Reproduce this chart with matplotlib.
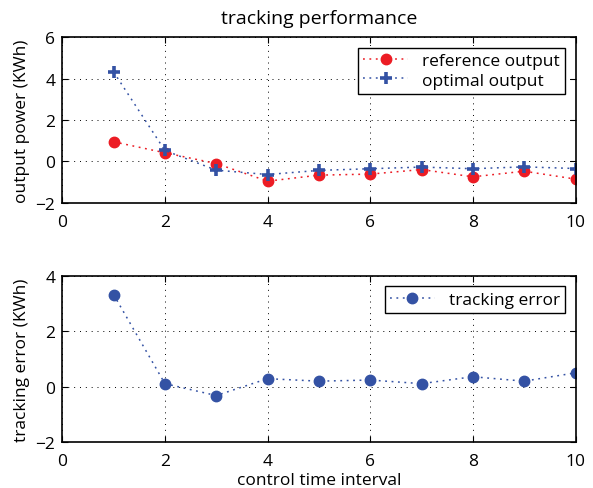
import matplotlib
matplotlib.use("Agg")
import matplotlib.pyplot as plt

plt.rcParams['font.family'] = ['Open Sans', 'DejaVu Sans']

x = [1, 2, 3, 4, 5, 6, 7, 8, 9, 10]
reference_output = [0.95, 0.42, -0.10, -0.95, -0.66, -0.61, -0.39, -0.74, -0.47, -0.85]
optimal_output = [4.32, 0.53, -0.42, -0.63, -0.43, -0.35, -0.27, -0.35, -0.26, -0.34]
tracking_error = [3.33, 0.11, -0.32, 0.29, 0.20, 0.24, 0.11, 0.36, 0.20, 0.50]

red = '#ec1c24'
blue = '#3452a4'
dots = (0, (1.2, 3.0))

fig = plt.figure(figsize=(5.93, 4.89), dpi=100)
ax1 = fig.add_axes([0.105, 0.583, 0.8655, 0.339])
ax2 = fig.add_axes([0.105, 0.094, 0.8655, 0.3395])

ax1.plot(x, reference_output, linestyle=dots, color=red, marker='o', markersize=7.5,
         markeredgecolor=red, markerfacecolor=red, linewidth=1.1, label='reference output')
ax1.plot(x, optimal_output, linestyle=dots, color=blue, marker='+', markersize=8.5,
         markeredgewidth=2.6, markeredgecolor=blue, linewidth=1.1, label='optimal output')
ax1.set_xlim(0, 10)
ax1.set_ylim(-2, 6)
ax1.set_yticks([-2, 0, 2, 4, 6])
ax1.set_xticks([0, 2, 4, 6, 8, 10])
ax1.set_ylabel('output power (KWh)', fontsize=12.5, labelpad=4)
ax1.set_title('tracking performance', fontsize=14, pad=10)
ax1.grid(True, linestyle=(0, (1, 5)), color='black', linewidth=0.7)
leg1 = ax1.legend(loc='upper right', fontsize=12.5, fancybox=False, edgecolor='black',
                  framealpha=1, handlelength=2.6, borderpad=0.3, labelspacing=0.2,
                  borderaxespad=0.6)
leg1.get_frame().set_linewidth(1.0)

ax2.plot(x, tracking_error, linestyle=dots, color=blue, marker='o', markersize=7.5,
         markeredgecolor=blue, markerfacecolor=blue, linewidth=1.1, label='tracking error')
ax2.set_xlim(0, 10)
ax2.set_ylim(-2, 4)
ax2.set_yticks([-2, 0, 2, 4])
ax2.set_xticks([0, 2, 4, 6, 8, 10])
ax2.set_ylabel('tracking error (KWh)', fontsize=12.5, labelpad=4)
ax2.set_xlabel('control time interval', fontsize=12.5, labelpad=2)
ax2.grid(True, linestyle=(0, (1, 5)), color='black', linewidth=0.7)
leg2 = ax2.legend(loc='upper right', fontsize=12.5, fancybox=False, edgecolor='black',
                  framealpha=1, handlelength=2.6, borderpad=0.3, borderaxespad=0.6)
leg2.get_frame().set_linewidth(1.0)

for ax in (ax1, ax2):
    ax.tick_params(direction='in', labelsize=12.5, top=True, right=True, length=4)
    ax.tick_params(axis='x', pad=8)
    ax.tick_params(axis='y', pad=5)
    for s in ax.spines.values():
        s.set_linewidth(1.2)

fig.savefig('out.png', dpi=100)
